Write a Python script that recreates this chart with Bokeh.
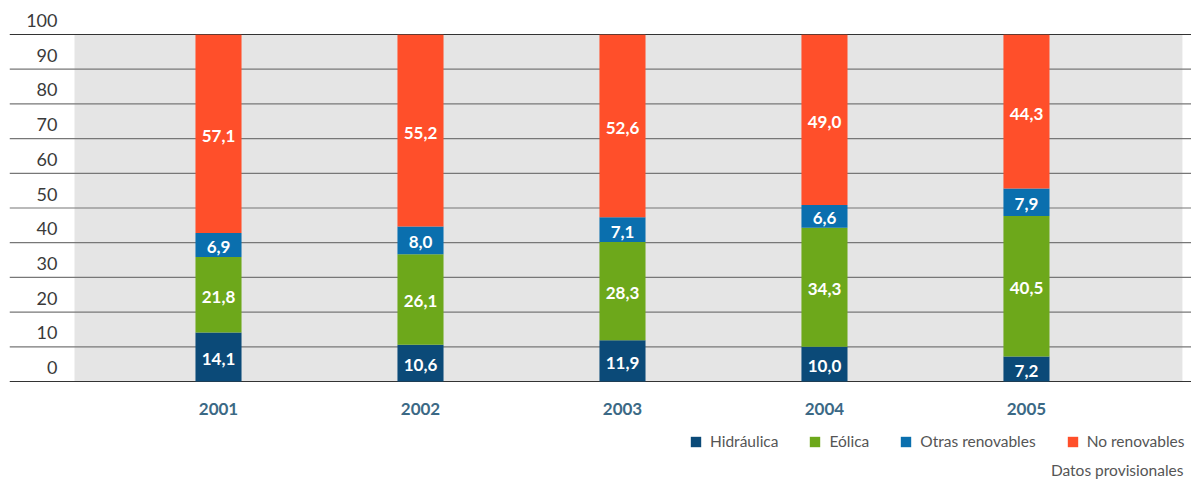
from bokeh.plotting import figure
from bokeh.models import (ColumnDataSource, Range1d, Legend, LegendItem, Label)
from bokeh.core.properties import value
from bokeh.embed import file_html
from bokeh.resources import INLINE

years = ["2001", "2002", "2003", "2004", "2005"]
hidraulica = [14.1, 10.6, 11.9, 10.0, 7.2]
eolica = [21.8, 26.1, 28.3, 34.3, 40.5]
otras = [6.9, 8.0, 7.1, 6.6, 7.9]
no_renovables = [57.1, 55.2, 52.6, 49.0, 44.3]
series_names = ["Hidráulica", "Eólica", "Otras renovables", "No renovables"]
series_keys = ["hid", "eol", "otr", "nor"]
colors = ["#0b4a78", "#6da81b", "#0a6fae", "#ff4f2a"]
y_ticks = [0, 10, 20, 30, 40, 50, 60, 70, 80, 90, 100]

FONT = "Lato"
xs = list(range(len(years)))

src = ColumnDataSource(dict(x=xs, hid=hidraulica, eol=eolica, otr=otras, nor=no_renovables))

x_range = Range1d(-1.0347, 4.817)
p = figure(frame_width=1182, frame_height=472, x_range=x_range, y_range=Range1d(-28.24, 107.78),
           output_backend="svg", toolbar_location=None,
           min_border_left=9, min_border_right=0, min_border_top=7, min_border_bottom=0)
p.outline_line_color = None
p.background_fill_color = "white"
p.xgrid.visible = False
p.ygrid.visible = False
p.xaxis.visible = False
p.yaxis.visible = False

# grey plot background
p.quad(left=[-0.7129], right=[4.772], bottom=[0], top=[100], fill_color="#e5e5e5", line_color=None)

# grid lines
grid_colors = ["#333333" if t in (0, 100) else "#777777" for t in y_ticks]
p.segment(x0=[x_range.start] * len(y_ticks), x1=[x_range.end] * len(y_ticks),
          y0=y_ticks, y1=y_ticks, line_color=grid_colors, line_width=1.2)

# y labels
p.text(x=[x_range.start] * len(y_ticks), y=y_ticks, text=[str(t) for t in y_ticks],
       x_offset=48, y_offset=-14, text_align="right", text_baseline="middle",
       text_font=value(FONT), text_font_size="18px", text_color="#3a3a3a")

renderers = p.vbar_stack(series_keys, x="x", width=0.228, source=src, color=colors, line_color=None)

# bar labels
data = [hidraulica, eolica, otras, no_renovables]
lx, ly, lt = [], [], []
for i in xs:
    base = 0.0
    for s in data:
        v = s[i]
        lx.append(i)
        ly.append(base + v / 2.0)
        lt.append(f"{v:.1f}".replace(".", ","))
        base += v
p.text(x=lx, y=ly, text=lt, text_align="center", text_baseline="middle", y_offset=2,
       text_font=value(FONT), text_font_size="17px", text_font_style="bold", text_color="white")

# year labels
p.text(x=xs, y=[0] * len(xs), text=years, y_offset=27, text_align="center", text_baseline="middle",
       text_font=value(FONT), text_font_size="17px", text_font_style="bold", text_color="#3b6985")

legend = Legend(items=[LegendItem(label=n, renderers=[r]) for n, r in zip(series_names, renderers)],
                orientation="horizontal", location=(680, 29),
                label_text_font=FONT, label_text_font_size="15.5px", label_text_color="#555555",
                glyph_width=13, glyph_height=13, spacing=30, label_standoff=8,
                border_line_color=None, background_fill_alpha=0, padding=2, margin=0)
p.add_layout(legend, "center")

p.add_layout(Label(x=1174, y=10, x_units="screen", y_units="screen", text="Datos provisionales",
                   text_align="right", text_baseline="middle", text_font=FONT, text_font_size="15.5px",
                   text_color="#555555"))

open("out.html", "w").write(file_html(p, INLINE))
